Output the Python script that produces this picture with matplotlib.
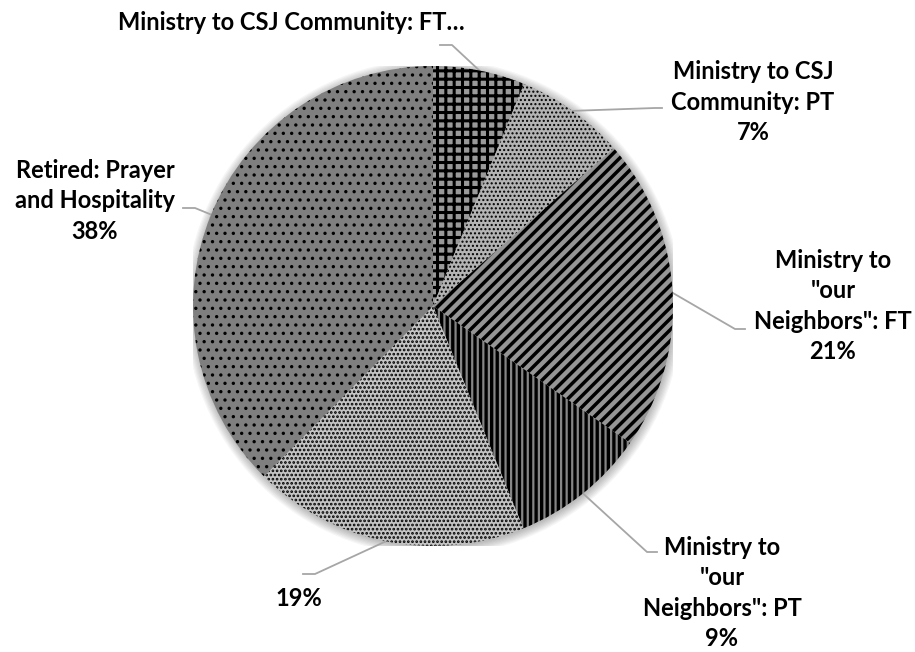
import numpy as np
import matplotlib
matplotlib.use("Agg")
import matplotlib.pyplot as plt

# share of sisters by ministry (percent)
names = ["Ministry to CSJ Community: FT…",
         "Ministry to CSJ\nCommunity: PT",
         "Ministry to\n\"our\nNeighbors\": FT",
         "Ministry to\n\"our\nNeighbors\": PT",
         "",
         "Retired: Prayer\nand Hospitality"]
shares = [6.2, 7.4, 21.1, 9.2, 18.6, 37.6]
show_pct = [False, True, True, True, True, True]

# look of each slice (Excel pattern fills in grey)
faces = ["#9a9a9a", "#b4b4b4", "#959595", "#858585", "#c4c4c4", "#7f7f7f"]
hatches = ["++", "....", "///", "|||", "....", ".."]
hatch_lw = [2.2, 1.0, 2.5, 2.4, 1.3, 1.2]

# label placement in pixels (text centre, elbow, end of leader)
W, H = 915, 652
cx, cy, R = 433, 306, 240
text_xy = [(291, 22), (753, 102), (833, 306), (722, 593), (299, 599), (95, 201)]
elbow_xy = [(452, 45), (655, 108), (735, 329), (647, 552), (315, 574), (195, 208)]
end_xy = [(440, 45), (662, 108), (745, 329), (657, 552), (303, 574), (183, 208)]

plt.rcParams['font.family'] = ['Lato', 'DejaVu Sans']
plt.rcParams['hatch.linewidth'] = 1.5

fig = plt.figure(figsize=(W / 100, H / 100), dpi=100)
ax = fig.add_axes([(cx - R) / W, (H - cy - R) / H, 2 * R / W, 2 * R / H])

# soft shadow round the pie
for k in range(8):
    ax.add_patch(plt.Circle((0.004, -0.006), 1.0 + 0.005 * k, color='black',
                            alpha=0.035, lw=0, zorder=0))

wedges, _ = ax.pie(shares, startangle=90, counterclock=False, radius=1,
                   colors=faces, wedgeprops=dict(edgecolor='black', linewidth=0))
for w, h, lw in zip(wedges, hatches, hatch_lw):
    w.set_hatch(h)
    w.set_zorder(2)
    if hasattr(w, 'set_hatch_linewidth'):
        w.set_hatch_linewidth(lw)

ax.set_xlim(-1, 1)
ax.set_ylim(-1, 1)
ax.set_aspect('equal')
ax.axis('off')


def to_data(p):
    return ((p[0] - cx) / R, (cy - p[1]) / R)


total = sum(shares)
for w, name, v, sp, t, e, z in zip(wedges, names, shares, show_pct, text_xy, elbow_xy, end_xy):
    mid = np.deg2rad((w.theta1 + w.theta2) / 2)
    edge = (np.cos(mid), np.sin(mid))
    e_d, z_d = to_data(e), to_data(z)
    ax.plot([edge[0], e_d[0], z_d[0]], [edge[1], e_d[1], z_d[1]],
            color='#a6a6a6', lw=1.3, clip_on=False, zorder=1)
    label = name
    if sp:
        pct = f"{v / total * 100:.0f}%"
        label = pct if name == "" else name + "\n" + pct
    fig.text(t[0] / W, 1 - t[1] / H, label, ha='center', va='center',
             multialignment='center', fontsize=17, fontweight='bold',
             color='black', linespacing=1.4)

fig.savefig('out.png', dpi=100)
